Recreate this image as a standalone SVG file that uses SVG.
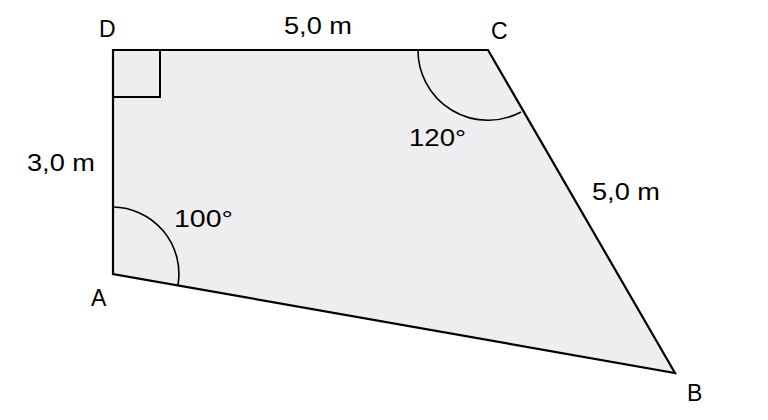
<svg xmlns="http://www.w3.org/2000/svg" width="768" height="420" viewBox="0 0 768 420">
<style>
.shape{fill:#eeedf0;stroke:#000;stroke-width:2.2;stroke-linejoin:miter}
.mark{fill:none;stroke:#000;stroke-width:2}
.arc{fill:none;stroke:#000;stroke-width:1.6}
text{font-family:"Liberation Sans",Arial,sans-serif;font-size:23px;fill:#000}
</style>
<rect width="768" height="420" fill="#fff"/>
<g id="figure">
<polygon class="shape" points="113,50 488,50 675,373 113,274"/>
<polyline class="mark" points="113,97 160,97 160,50"/>
<path class="arc" d="M418,50 A70,70 0 0 0 521,112"/>
<path class="arc" d="M113,207 A67,67 0 0 1 178,285"/>
</g>
<g id="labels">
<text x="99" y="37">D</text>
<text x="491" y="39">C</text>
<text x="687" y="401">B</text>
<text x="91" y="306">A</text>
<text x="284" y="34" textLength="68" lengthAdjust="spacingAndGlyphs">5,0 m</text>
<text x="27" y="171" textLength="68" lengthAdjust="spacingAndGlyphs">3,0 m</text>
<text x="592" y="200" textLength="68" lengthAdjust="spacingAndGlyphs">5,0 m</text>
<text x="174" y="227" textLength="59" lengthAdjust="spacingAndGlyphs">100°</text>
<text x="409" y="146" textLength="57" lengthAdjust="spacingAndGlyphs">120°</text>
</g>
</svg>
